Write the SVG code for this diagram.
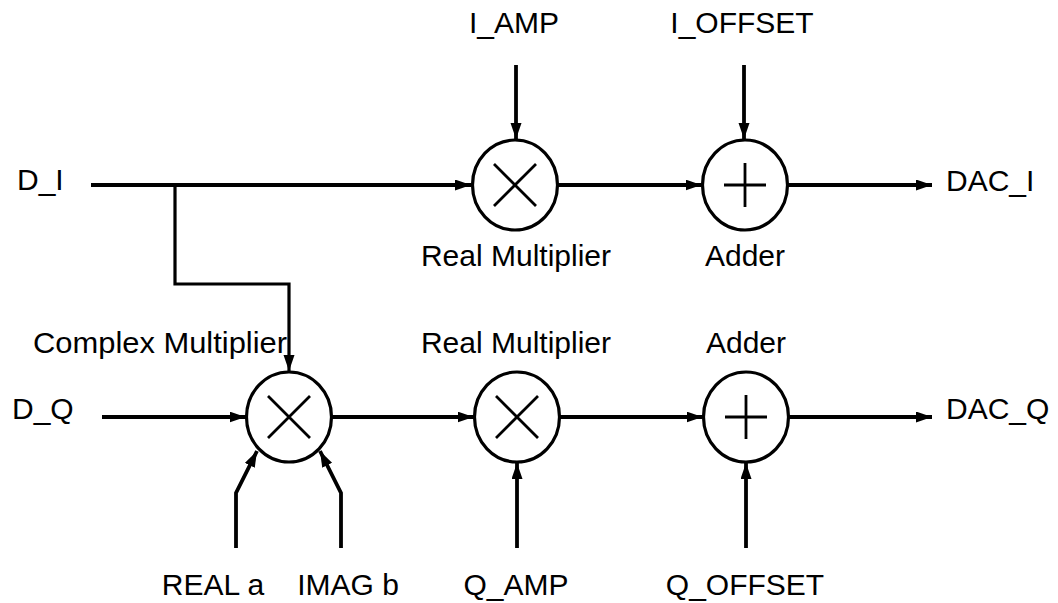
<svg xmlns="http://www.w3.org/2000/svg" width="1058" height="603" viewBox="0 0 1058 603">
<style>
text{font-family:"Liberation Sans",Arial,sans-serif;font-size:30px;fill:#000}
.c{fill:#fff;stroke:#000;stroke-width:3.2}
.g{stroke:#000;stroke-width:2.8;fill:none}
.w{stroke:#000;stroke-width:3.8;fill:none;marker-end:url(#ah)}
.m{text-anchor:middle}
</style>
<defs>
<marker id="ah" markerUnits="userSpaceOnUse" markerWidth="18" markerHeight="12" refX="16" refY="5.5" orient="auto">
<path d="M0,0 L16,5.5 L0,11 z" fill="#000"/>
</marker>
</defs>
<rect width="1058" height="603" fill="#fff"/>
<g id="connectors">
<path class="w" d="M91,185 H471"/>
<path class="w" d="M175,185 V284 H289 V371" style="stroke-width:3.2"/>
<path class="w" d="M557.5,185 H701.5"/>
<path class="w" d="M787.5,185 H932"/>
<path class="w" d="M516,65 V139"/>
<path class="w" d="M744,65 V139"/>
<path class="w" d="M102,417 H245.5"/>
<path class="w" d="M331.5,417 H473.5"/>
<path class="w" d="M559.5,417 H702.5"/>
<path class="w" d="M788.5,417 H932"/>
<path class="w" d="M236,548 V493 L257,451"/>
<path class="w" d="M341,548 V493 L320,451"/>
<path class="w" d="M517,548 V463"/>
<path class="w" d="M746,548 V463"/>
</g>
<g id="real-mult-i">
<ellipse class="c" cx="515" cy="185" rx="42.5" ry="45"/>
<path class="g" d="M494,164 L536,206 M536,164 L494,206"/>
<text class="m" x="516" y="266">Real Multiplier</text>
</g>
<g id="adder-i">
<ellipse class="c" cx="745" cy="185" rx="42.5" ry="45"/>
<path class="g" d="M724,185 H766 M745,163 V207"/>
<text class="m" x="745" y="266">Adder</text>
</g>
<g id="complex-mult">
<ellipse class="c" cx="289" cy="417" rx="42.5" ry="45"/>
<path class="g" d="M268,396 L310,438 M310,396 L268,438"/>
<text x="33" y="353" textLength="254" lengthAdjust="spacingAndGlyphs">Complex Multiplier</text>
</g>
<g id="real-mult-q">
<ellipse class="c" cx="517" cy="417" rx="42.5" ry="45"/>
<path class="g" d="M496,396 L538,438 M538,396 L496,438"/>
<text class="m" x="516" y="353">Real Multiplier</text>
</g>
<g id="adder-q">
<ellipse class="c" cx="746" cy="417" rx="42.5" ry="45"/>
<path class="g" d="M725,417 H767 M746,395 V439"/>
<text class="m" x="746" y="353">Adder</text>
</g>
<g id="labels">
<text class="m" x="514" y="33">I_AMP</text>
<text class="m" x="742" y="33">I_OFFSET</text>
<text x="17" y="190">D_I</text>
<text x="946" y="191">DAC_I</text>
<text x="12" y="419">D_Q</text>
<text x="946" y="419">DAC_Q</text>
<text class="m" x="213" y="595">REAL a</text>
<text class="m" x="348" y="595">IMAG b</text>
<text class="m" x="516" y="595">Q_AMP</text>
<text class="m" x="745" y="595">Q_OFFSET</text>
</g>
</svg>
